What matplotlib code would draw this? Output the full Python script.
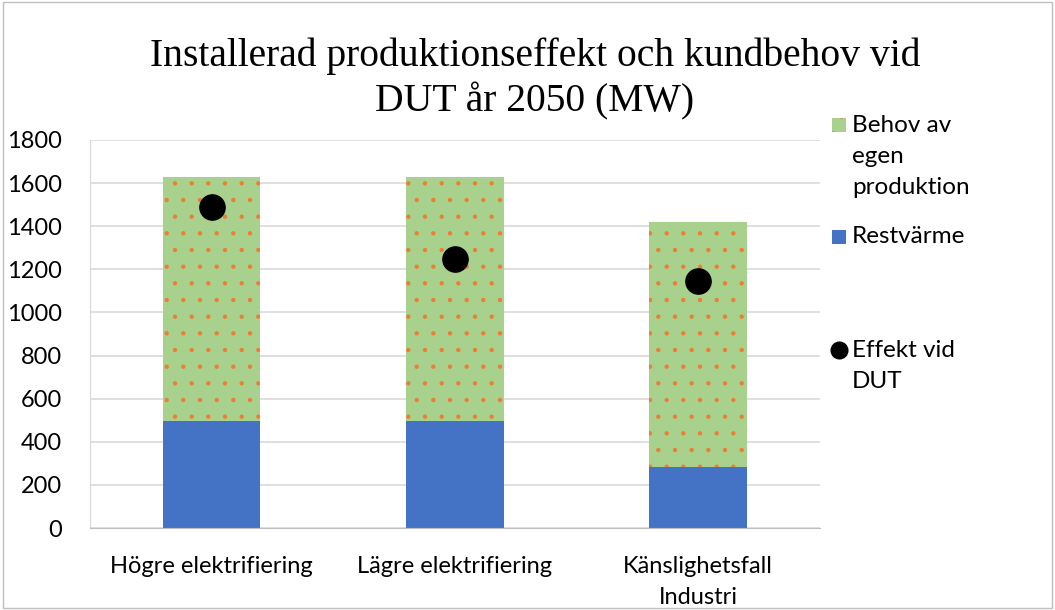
import matplotlib.pyplot as plt
from matplotlib.lines import Line2D
from matplotlib.patches import Rectangle
import numpy as np

plt.rcParams['font.family'] = ['Lato', 'DejaVu Sans']
plt.rcParams['hatch.color'] = '#ED7D31'
plt.rcParams['hatch.linewidth'] = 0.7

categories = ['Högre elektrifiering', 'Lägre elektrifiering', 'Känslighetsfall\nIndustri']
restvarme = [495, 495, 285]
behov = [1135, 1135, 1135]
effekt_dut = [1490, 1248, 1146]

green = '#A9D18E'
blue = '#4472C4'

fig = plt.figure(figsize=(10.55, 6.1), dpi=100)
ax = fig.add_axes([0.0853, 0.1344, 0.6917, 0.6361])

x = np.arange(len(categories))
ax.bar(x, restvarme, width=0.4, color=blue, zorder=2)
ax.bar(x, behov, width=0.4, bottom=restvarme, color=green, hatch='.',
       edgecolor='#ED7D31', linewidth=0, zorder=2)
ax.scatter(x, effekt_dut, s=330, color='black', zorder=3)

ax.set_xlim(-0.5, 2.5)
ax.set_ylim(0, 1800)
ax.set_yticks(range(0, 1801, 200))
ax.grid(axis='y', color='#D9D9D9', linewidth=1.2, zorder=0)
ax.set_xticks(x)
ax.set_xticklabels(categories, fontsize=17, linespacing=1.6)
ax.tick_params(axis='y', labelsize=17, length=0, pad=20)
ax.tick_params(axis='x', length=0, pad=20)
for s in ['top', 'right']:
    ax.spines[s].set_visible(False)
ax.spines['left'].set_color('#D9D9D9')
ax.spines['bottom'].set_color('#BFBFBF')

# title, one text per line
title_lines = ['Installerad produktionseffekt och kundbehov vid', 'DUT år 2050 (MW)']
for j, line in enumerate(title_lines):
    fig.text(0.507, 0.908 - j * 45 / 610, line, fontsize=28.5, ha='center', va='center',
             family=['Liberation Serif', 'DejaVu Serif'])

# legend drawn like the Excel one: handle next to the first line of each entry
labels = ['Behov av\negen\nproduktion', 'Restvärme', 'Effekt vid\nDUT']
leg_y = [0.795, 0.6115, 0.4262]
line_step = 31 / 610
hx = 832 / 1055
hw = 14 / 1055
hh = 14 / 610
for i, (lab, y0) in enumerate(zip(labels, leg_y)):
    for j, line in enumerate(lab.split('\n')):
        fig.text(852 / 1055, y0 - j * line_step, line, fontsize=17.5, va='center')
    if i == 0:
        fig.add_artist(Rectangle((hx, y0 - hh / 2), hw, hh, transform=fig.transFigure,
                                 facecolor=green, edgecolor='#ED7D31', hatch='.', linewidth=0))
    elif i == 1:
        fig.add_artist(Rectangle((hx, y0 - hh / 2), hw, hh, transform=fig.transFigure,
                                 facecolor=blue, linewidth=0))
    else:
        fig.add_artist(Line2D([hx + hw / 2], [y0], transform=fig.transFigure, marker='o',
                              color='black', markersize=12, linestyle=''))

fig.add_artist(Rectangle((0.003, 0.003), 0.994, 0.994, transform=fig.transFigure,
                         fill=False, edgecolor='#BFBFBF', linewidth=1))

fig.savefig('out.png', dpi=100)
